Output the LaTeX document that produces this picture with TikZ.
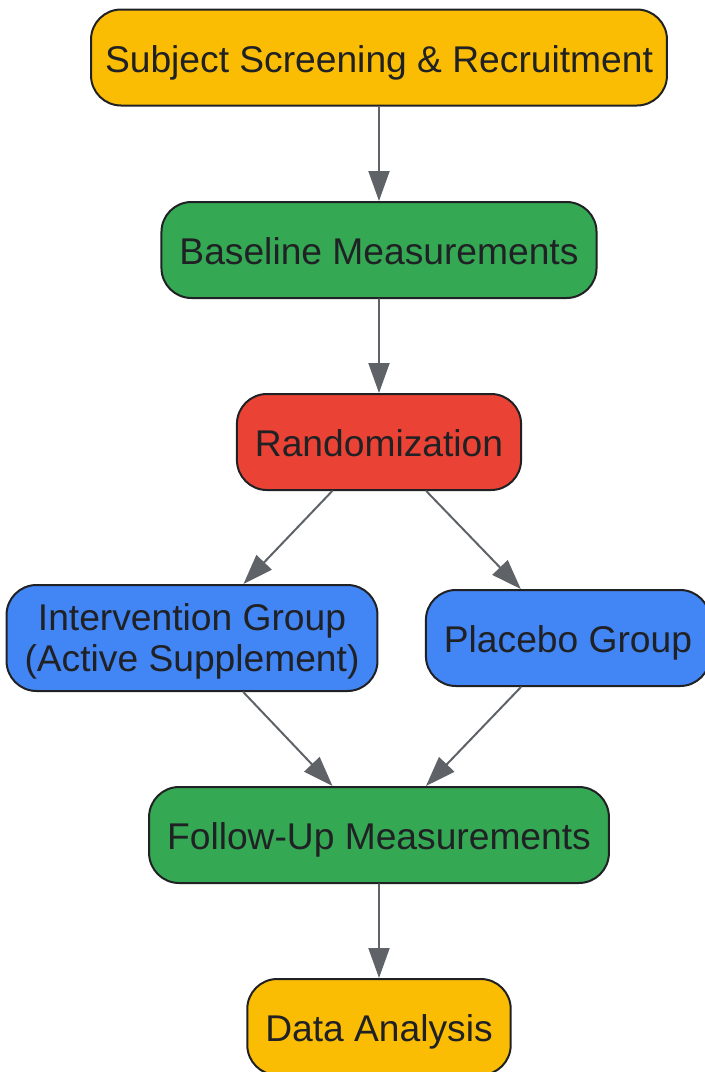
\documentclass[tikz,border=0pt]{standalone}
\usepackage{fontspec}
\setmainfont{Liberation Sans}
\usetikzlibrary{arrows.meta}
\definecolor{stepyellow}{HTML}{FBBC04}
\definecolor{stepgreen}{HTML}{34A853}
\definecolor{stepred}{HTML}{EA4335}
\definecolor{stepblue}{HTML}{4285F4}
\definecolor{edgeblack}{HTML}{202124}
\definecolor{arrowgray}{HTML}{5F6368}

\begin{document}
\begin{tikzpicture}[x=0.5pt,y=-0.5pt,line cap=round,line join=round,
  box/.style={draw=edgeblack,line width=1pt,rounded corners=15pt,minimum height=48pt,
    inner xsep=9pt,inner ysep=5pt,align=center,text=edgeblack,
    text height=14.8pt,text depth=0pt,
    font=\fontsize{18.6}{20.5}\selectfont},
  flow/.style={draw=arrowgray,line width=1pt,-{Triangle[length=15pt,width=10.5pt]}}]
  \useasboundingbox (0,0) rectangle (705,1072);
  % steps of the trial
  \node[box,fill=stepyellow,inner xsep=7pt] (screen) at (379,57.5) {Subject Screening \& Recruitment};
  \node[box,fill=stepgreen] (baseline) at (379,250) {Baseline Measurements};
  \node[box,fill=stepred] (random) at (379,442) {Randomization};
  \node[box,fill=stepblue,text height=,minimum height=53pt] (active) at (192,638) {Intervention Group\\(Active Supplement)};
  \node[box,fill=stepblue] (placebo) at (568,638) {Placebo Group};
  \node[box,fill=stepgreen] (followup) at (379,835) {Follow-Up Measurements};
  \node[box,fill=stepyellow] (analysis) at (379,1027) {Data Analysis};
  % arrows
  \draw[flow] (screen) -- (baseline);
  \draw[flow] (baseline) -- (random);
  \draw[flow] (random) -- (active);
  \draw[flow] (random) -- (placebo);
  \draw[flow] (active) -- (followup);
  \draw[flow] (placebo) -- (followup);
  \draw[flow] (followup) -- (analysis);
\end{tikzpicture}
\end{document}
